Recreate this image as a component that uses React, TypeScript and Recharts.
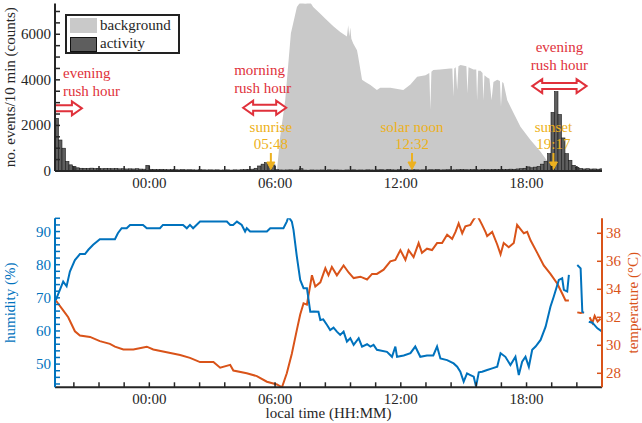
import React from 'react';
import {
  ComposedChart,
  LineChart,
  Line,
  Area,
  Bar,
  XAxis,
  YAxis,
  ReferenceArea,
  ReferenceDot,
} from 'recharts';

// ---------------- data ----------------
// time axis in hours relative to local midnight (negative = previous evening)
const X_DOMAIN: [number, number] = [-4.5, 21.6];
const xTicks = [-3.6, -2.4, -1.2, 0, 1.2, 2.4, 3.6, 4.8, 6, 7.2, 8.4, 9.6, 10.8, 12, 13.2, 14.4, 15.6, 16.8, 18, 19.2, 20.4];
const xMajor = [0, 6, 12, 18];
const xLabels = ['00:00', '06:00', '12:00', '18:00'];

const countTicks = [0, 500, 1000, 1500, 2000, 2500, 3000, 3500, 4000, 4500, 5000, 5500, 6000, 6500, 7000];
const countMajor = [0, 2000, 4000, 6000];
const humTicks = [44, 46, 48, 50, 52, 54, 56, 58, 60, 62, 64, 66, 68, 70, 72, 74, 76, 78, 80, 82, 84, 86, 88, 90, 92, 94];
const humMajor = [50, 60, 70, 80, 90];
const tempTicks = [28, 30, 32, 34, 36, 38];

// activity: counts per 10-min bin, first bin starts 19:30 (previous evening)
const ACT_START = -4.5;
const BIN_H = 1 / 6;
const activity = [
  2310, 1360, 1000, // 19:30
  420, 270, 190, 140, 120, 115, // 20:00
  110, 125, 105, 115, 100, 110, // 21:00
  105, 100, 110, 95, 100, 90, // 22:00
  95, 90, 100, 85, 80, 250, // 23:00
  75, 70, 65, 75, 60, 55, // 00:00
  60, 55, 50, 60, 50, 55, // 01:00
  50, 45, 55, 50, 45, 50, // 02:00
  45, 50, 40, 45, 50, 40, // 03:00
  50, 45, 55, 60, 70, 80, // 04:00
  120, 220, 300, 365, 380, 265, // 05:00
  60, 45, 40, 45, 50, 40, // 06:00
  45, 100, 40, 35, 45, 40, // 07:00
  40, 45, 35, 50, 40, 45, // 08:00
  40, 35, 45, 40, 50, 40, // 09:00
  45, 40, 50, 45, 40, 50, // 10:00
  55, 45, 60, 50, 45, 55, // 11:00
  50, 60, 45, 55, 50, 45, // 12:00
  50, 45, 55, 50, 60, 45, // 13:00
  50, 55, 45, 50, 55, 60, // 14:00
  55, 50, 60, 55, 50, 60, // 15:00
  60, 55, 65, 60, 70, 65, // 16:00
  70, 80, 75, 90, 100, 120, // 17:00
  180, 140, 170, 200, 300, 420, // 18:00
  760, 2570, 3480, 2480, 1450, 760, // 19:00
  470, 250, 160, 110, 90, 100, // 20:00
  85, 90, 80, 95, // 21:00
];

// background (time in h, counts)
const background: [number, number][] = [
  [6.087, 0], [6.245, 1500], [6.484, 3110], [6.756, 6050], [7.043, 7200], [7.2, 7400], [7.44, 7350],
  [7.68, 7400], [7.82, 7200], [8.16, 6900], [8.44, 6650], [8.78, 6350], [9.11, 6100], [9.43, 5900],
  [9.49, 6400], [9.54, 5900], [9.59, 6300], [9.64, 5800], [9.73, 5600], [9.91, 5300], [9.97, 5000],
  [10.15, 4000], [10.31, 3900], [10.55, 3770], [10.86, 3550], [11.02, 3650], [11.5, 3650], [12.12, 3550],
  [12.46, 3800], [12.78, 4140], [13.18, 4200], [13.36, 4300], [13.41, 2675], [13.46, 4350], [13.55, 4430],
  [13.88, 4450], [14.35, 4500], [14.46, 4500], [14.51, 3260], [14.55, 4500], [14.62, 4550], [14.69, 3550],
  [14.75, 4600], [14.85, 4650], [15.13, 4600], [15.18, 3400], [15.23, 4550], [15.47, 4450], [15.6, 4450],
  [15.64, 3110], [15.69, 4400], [15.8, 4400], [15.9, 4300], [15.94, 3110], [15.99, 4200], [16.12, 4100],
  [16.23, 4050], [16.33, 3110], [16.42, 3900], [16.6, 4000], [16.73, 3950], [16.78, 2820], [16.84, 3900],
  [16.9, 3860], [17.08, 3110], [17.38, 2540], [17.71, 1940], [18.19, 1360], [18.67, 846], [19.05, 360],
  [19.29, 60], [19.38, 0],
];

// humidity (%) ; null = gap in record
const humidity: [number, number | null][] = [
  [-4.458, 69.4], [-4.267, 72.4], [-4.109, 74.9], [-3.946, 73.5], [-3.789, 77.9], [-3.55, 81.4], [-3.31, 83.2],
  [-3.07, 83.2], [-2.91, 84.5], [-2.68, 86], [-2.36, 87.7], [-1.88, 87.7], [-1.64, 87.7], [-1.5, 89.5],
  [-1.32, 91], [-1.08, 91], [-0.92, 92], [-0.3, 92], [-0.12, 91], [0.51, 91], [0.65, 92], [1.61, 92],
  [1.79, 91], [1.94, 92], [2.09, 91], [2.42, 93], [3.7, 93], [3.86, 92], [4.0, 92], [4.18, 93], [4.41, 92],
  [4.57, 90], [4.65, 91], [4.81, 90], [5.61, 90], [5.77, 91], [6.4, 91], [6.56, 93], [6.64, 94.5], [6.8, 93],
  [6.88, 90.5], [7.04, 82.4], [7.2, 75.4], [7.36, 72.9], [7.52, 72.9], [7.68, 65.8], [7.84, 65.9], [8.07, 65.8],
  [8.16, 63.3], [8.3, 63.5], [8.48, 61.8], [8.63, 60.3], [8.79, 61], [8.95, 59.8], [9.11, 58.8], [9.27, 59.8],
  [9.43, 56.8], [9.59, 57.8], [9.75, 55.8], [9.99, 57.8], [10.15, 55.3], [10.39, 56], [10.55, 55.3],
  [10.7, 55.8], [10.86, 54.3], [11.34, 53.7], [11.58, 52.2], [11.74, 55.3], [11.82, 52.2], [12.14, 52.6],
  [12.46, 53.3], [12.69, 55.3], [12.93, 52.2], [13.25, 52.6], [13.55, 52.6], [13.73, 55.3], [13.89, 51.7],
  [14.21, 51.2], [14.52, 50.2], [14.69, 49.2], [14.84, 47.7], [15.0, 44.7], [15.16, 47.2], [15.32, 46.7],
  [15.48, 46.2], [15.59, 43.2], [15.72, 47.5], [15.88, 47.7], [16.12, 48.2], [16.36, 48.7], [16.6, 49.2],
  [16.76, 53.3], [16.99, 52.2], [17.23, 49.7], [17.47, 52.2], [17.63, 46.7], [17.79, 50.7], [17.95, 52.2],
  [18.11, 49.2], [18.27, 54.3], [18.43, 55.3], [18.67, 57.3], [18.91, 61.3], [19.14, 67.3], [19.3, 70.4],
  [19.54, 75.4], [19.7, 75.9], [19.78, 72.4], [19.94, 71.9], [20.02, 76.9], [20.2, null], [20.42, 79.9],
  [20.58, 78.9], [20.66, 65.8], [20.74, 65.5], [20.85, null], [20.97, 62.8], [21.14, 62.5], [21.38, 60.8],
  [21.61, 59.8],
];

// temperature (deg C) ; null = gap in record
const temperature: [number, number | null][] = [
  [-4.458, 33.2], [-4.109, 32.5], [-3.87, 32.0], [-3.55, 31.0], [-3.31, 30.7], [-2.83, 30.6], [-2.36, 30.3],
  [-1.88, 30.1], [-1.64, 29.9], [-1.24, 29.7], [-0.76, 29.7], [-0.12, 29.9], [0.19, 29.7], [0.83, 29.5],
  [1.47, 29.3], [1.94, 29.1], [2.42, 28.8], [3.06, 28.8], [3.38, 28.4], [3.86, 28.6], [4.01, 28.2], [4.65, 28.0],
  [5.13, 27.8], [5.61, 27.4], [6.09, 27.2], [6.33, 27.0], [6.56, 28.0], [6.8, 29.4], [7.04, 31.1], [7.2, 32.2],
  [7.36, 33.0], [7.52, 32.9], [7.76, 35.0], [7.92, 34.2], [8.16, 34.5], [8.4, 35.5], [8.55, 35.0], [8.71, 35.6],
  [8.95, 35.0], [9.27, 35.7], [9.51, 35.2], [9.75, 34.8], [10.07, 34.9], [10.39, 34.7], [10.63, 35.1],
  [10.86, 35.1], [11.18, 35.4], [11.5, 36.0], [11.74, 36.1], [11.98, 36.8], [12.22, 36.1], [12.37, 36.8],
  [12.61, 36.3], [12.85, 37.3], [13.01, 36.6], [13.25, 36.9], [13.49, 36.8], [13.73, 37.3], [13.97, 37.3],
  [14.21, 37.9], [14.45, 37.6], [14.61, 38.1], [14.76, 38.7], [14.93, 38.0], [15.08, 38.5], [15.32, 38.6],
  [15.48, 39.0], [15.64, 39.3], [15.88, 38.6], [16.04, 38.1], [16.12, 37.8], [16.36, 38.1], [16.6, 37.2],
  [16.76, 36.5], [16.91, 37.3], [17.15, 37.0], [17.39, 37.3], [17.55, 38.6], [17.71, 38.3], [17.87, 38.0],
  [18.03, 38.1], [18.19, 37.5], [18.51, 36.6], [18.82, 35.7], [19.14, 35.1], [19.47, 34.4], [19.7, 33.7],
  [19.86, 33.2], [20.02, 33.2], [20.2, null], [20.42, 32.35], [20.58, 32.3], [20.74, 32.35], [20.85, null],
  [21.01, 32.0], [21.14, 31.6], [21.25, 32.1], [21.39, 31.7], [21.53, 31.9],
];

// annotations
const sunTimes = [5.8, 12.533, 19.283];
const sunNames = ['sunrise', 'solar noon', 'sunset'];
const sunClock = ['05:48', '12:32', '19:17'];

const rushFrom = [-4.5, 4.477, 18.27];
const rushTo = [-3.216, 6.531, 20.865];
const rushLevel = [2750, 2775, 3725];
const rushLine1 = ['evening', 'morning', 'evening'];
const rushLine2 = ['rush hour', 'rush hour', 'rush hour'];

// ---------------- derived tables ----------------
const actData = activity.map((a, i) => ({ t: ACT_START + (i + 0.5) * BIN_H, a }));
const bgData = background.map(([t, v]) => ({ t, v }));
const humData = humidity.map(([t, h]) => ({ t, h }));
const tempData = temperature.map(([t, c]) => ({ t, c }));

// ---------------- styles ----------------
const FONT = '"Liberation Serif", "Times New Roman", serif';
const INK = '#262626';
const BLUE = '#0072BD';
const ORANGE = '#D95319';
const RED = '#E0313B';
const YELLOW = '#EDB120';
const FS = 15;
const PLOT_W = 547;
const BIN_PX = (PLOT_W / (X_DOMAIN[1] - X_DOMAIN[0])) * BIN_H;

const near = (arr: number[], v: number) => arr.findIndex((m) => Math.abs(m - v) < 1e-6);

const xTick = (labels: boolean, dir: number) => (p: any) => {
  const { x, y, payload } = p;
  const i = near(xMajor, payload.value);
  return (
    <g>
      <line x1={x} x2={x} y1={y} y2={y + dir * 5} stroke={INK} strokeWidth={1.5} />
      {labels && i >= 0 && (
        <text x={x} y={y + 17} textAnchor="middle" fontSize={FS} fontFamily={FONT} fill={INK}>
          {xLabels[i]}
        </text>
      )}
    </g>
  );
};

const yTick = (side: 'left' | 'right', color: string, major: number[] | null, textColor: string) => (p: any) => {
  const { x, y, payload } = p;
  const v = payload.value;
  const dir = side === 'left' ? 1 : -1;
  const isMajor = major ? near(major, v) >= 0 : false;
  return (
    <g>
      <line x1={x} x2={x + dir * 5} y1={y} y2={y} stroke={color} strokeWidth={1.5} />
      {isMajor && (
        <text
          x={side === 'left' ? x - 4 : x + 4}
          y={y + 5}
          textAnchor={side === 'left' ? 'end' : 'start'}
          fontSize={FS}
          fontFamily={FONT}
          fill={textColor}
        >
          {String(v)}
        </text>
      )}
    </g>
  );
};

const vTitle = (text: string, color: string, bx: (vb: any) => number) => (p: any) => {
  const vb = p.viewBox || { x: 0, y: 0, width: 0, height: 0 };
  const x = bx(vb);
  const y = vb.y + vb.height / 2;
  return (
    <text
      x={x}
      y={y}
      transform={`rotate(-90, ${x}, ${y})`}
      textAnchor="middle"
      fontSize={FS}
      fontFamily={FONT}
      fill={color}
    >
      {text}
    </text>
  );
};

const binShape = (p: any) => {
  const { x, y, width, height } = p;
  if (height == null || !isFinite(height) || height <= 0) return <g />;
  const cx = x + width / 2;
  return (
    <rect x={cx - BIN_PX / 2} y={y} width={BIN_PX} height={height} fill="#5e5e5e" stroke="#1a1a1a" strokeWidth={0.6} />
  );
};

const rushShape = (k: number) => (p: any) => {
  const { x, y, width, height } = p;
  const cy = y + height / 2;
  const x1 = x;
  const x2 = x + width;
  const hl = 10;
  const hh = 7;
  const sh = 3;
  let pts: number[][];
  if (k === 0) {
    pts = [
      [x1, cy - sh], [x2 - hl, cy - sh], [x2 - hl, cy - hh], [x2, cy],
      [x2 - hl, cy + hh], [x2 - hl, cy + sh], [x1, cy + sh],
    ];
  } else {
    pts = [
      [x1, cy], [x1 + hl, cy - hh], [x1 + hl, cy - sh], [x2 - hl, cy - sh], [x2 - hl, cy - hh], [x2, cy],
      [x2 - hl, cy + hh], [x2 - hl, cy + sh], [x1 + hl, cy + sh], [x1 + hl, cy + hh],
    ];
  }
  const tx = k === 0 ? x1 + 8 : k === 1 ? x1 - 9 : (x1 + x2) / 2;
  const anchor = k === 2 ? 'middle' : 'start';
  const d1 = k === 0 ? -30 : k === 1 ? -33 : -34.5;
  const d2 = k === 0 ? -12 : k === 1 ? -14.5 : -16;
  return (
    <g>
      <polygon points={pts.map((q) => q.join(',')).join(' ')} fill="#fff" stroke={RED} strokeWidth={2} strokeLinejoin="miter" />
      <text x={tx} y={cy + d1} textAnchor={anchor} fontSize={FS} fontFamily={FONT} fill={RED}>{rushLine1[k]}</text>
      <text x={tx} y={cy + d2} textAnchor={anchor} fontSize={FS} fontFamily={FONT} fill={RED}>{rushLine2[k]}</text>
    </g>
  );
};

const sunShape = (k: number) => (p: any) => {
  const { cx, cy } = p;
  return (
    <g>
      <text x={cx} y={cy - 39.5} textAnchor="middle" fontSize={FS} fontFamily={FONT} fill={YELLOW}>{sunNames[k]}</text>
      <text x={cx} y={cy - 22.5} textAnchor="middle" fontSize={FS} fontFamily={FONT} fill={YELLOW}>{sunClock[k]}</text>
      <line x1={cx} x2={cx} y1={cy - 18} y2={cy - 8} stroke={YELLOW} strokeWidth={2} />
      <polygon points={`${cx - 4},${cy - 9} ${cx + 4},${cy - 9} ${cx},${cy - 1.5}`} fill={YELLOW} stroke={YELLOW} strokeWidth={1} />
    </g>
  );
};

const frame = { stroke: INK, strokeWidth: 2 };

export default function App() {
  return (
    <div style={{ position: 'absolute', left: 0, top: 0, width: 642, height: 423, background: '#fff', fontFamily: FONT }}>
      <div style={{ position: 'absolute', left: 0, top: 0 }}>
        <ComposedChart
          width={642} height={200} data={actData} margin={{ top: 3.5, right: 40, bottom: 0, left: 0 }}
          barCategoryGap={0} barGap={0}
        >
          <XAxis
            xAxisId="x" dataKey="t" type="number" domain={X_DOMAIN} allowDataOverflow ticks={xTicks} interval={0}
            tickSize={0} tickMargin={0} tickLine={false} axisLine={frame} tick={xTick(true, -1)} height={29}
          />
          <XAxis
            xAxisId="xt" orientation="top" dataKey="t" type="number" domain={X_DOMAIN} allowDataOverflow ticks={xTicks}
            interval={0} tickSize={0} tickMargin={0} tickLine={false} axisLine={frame} tick={xTick(false, 1)} height={0}
          />
          <YAxis
            yAxisId="c" type="number" domain={[0, 7350]} allowDataOverflow ticks={countTicks} interval={0}
            tickSize={0} tickMargin={0} tickLine={false} axisLine={frame} width={55}
            tick={yTick('left', INK, countMajor, INK)}
            label={vTitle('no. events/10 min (counts)', INK, (vb) => vb.x + 14.5)}
          />
          <YAxis
            yAxisId="cr" orientation="right" type="number" domain={[0, 7350]} allowDataOverflow ticks={countTicks}
            interval={0} tickSize={0} tickMargin={0} tickLine={false} axisLine={frame} width={0}
            tick={yTick('right', INK, null, INK)}
          />
          <Area
            xAxisId="x" yAxisId="c" data={bgData} dataKey="v" type="linear" fill="#c9c9c9" fillOpacity={1}
            stroke="none" isAnimationActive={false} dot={false} activeDot={false}
          />
          <Bar
            xAxisId="x" yAxisId="c" dataKey="a" fill="#5e5e5e" shape={binShape} minPointSize={0}
            isAnimationActive={false}
          />
          {rushFrom.map((f, k) => (
            <ReferenceArea
              key={`r${k}`} xAxisId="x" yAxisId="c" x1={f} x2={rushTo[k]} y1={rushLevel[k] - 200} y2={rushLevel[k] + 200}
              shape={rushShape(k)} ifOverflow="visible"
            />
          ))}
          {sunTimes.map((t, k) => (
            <ReferenceDot key={`s${k}`} xAxisId="x" yAxisId="c" x={t} y={0} r={0} shape={sunShape(k)} ifOverflow="visible" />
          ))}
        </ComposedChart>
      </div>

      <div
        style={{
          position: 'absolute', left: 65, top: 14, width: 115, height: 40, border: '2px solid #222',
          boxSizing: 'border-box', background: '#fff', fontSize: FS, fontFamily: FONT, color: INK,
        }}
      >
        <div style={{ position: 'absolute', left: 3, top: 2.3, width: 27, height: 15, background: '#c9c9c9' }} />
        <div
          style={{
            position: 'absolute', left: 3, top: 20.7, width: 27, height: 15, background: '#5e5e5e',
            border: '1px solid #111', boxSizing: 'border-box',
          }}
        />
        <div style={{ position: 'absolute', left: 33, top: 1, lineHeight: '17px', whiteSpace: 'nowrap' }}>background</div>
        <div style={{ position: 'absolute', left: 33, top: 18.5, lineHeight: '17px', whiteSpace: 'nowrap' }}>activity</div>
      </div>

      <div style={{ position: 'absolute', left: 0, top: 200 }}>
        <LineChart width={642} height={223} margin={{ top: 18.3, right: 0, bottom: 0, left: 0 }}>
          <XAxis
            xAxisId="x" dataKey="t" type="number" domain={X_DOMAIN} allowDataOverflow ticks={xTicks} interval={0}
            tickSize={0} tickMargin={0} tickLine={false} axisLine={frame} tick={xTick(true, -1)} height={35.7}
            label={(p: any) => {
              const vb = p.viewBox || { x: 55, y: 187, width: 547, height: 36 };
              return (
                <text x={vb.x + vb.width / 2} y={vb.y + 31} textAnchor="middle" fontSize={FS} fontFamily={FONT} fill={INK}>
                  local time (HH:MM)
                </text>
              );
            }}
          />
          <XAxis
            xAxisId="xt" orientation="top" dataKey="t" type="number" domain={X_DOMAIN} allowDataOverflow ticks={xTicks}
            interval={0} tickSize={0} tickMargin={0} tickLine={false} axisLine={frame} tick={xTick(false, 1)} height={0}
          />
          <YAxis
            yAxisId="h" type="number" domain={[43, 94]} allowDataOverflow ticks={humTicks} interval={0}
            tickSize={0} tickMargin={0} tickLine={false} axisLine={{ stroke: BLUE, strokeWidth: 2 }} width={55}
            tick={yTick('left', BLUE, humMajor, BLUE)}
            label={vTitle('humidity (%)', BLUE, (vb) => vb.x + 15)}
          />
          <YAxis
            yAxisId="c" orientation="right" type="number" domain={[27, 39.07]} allowDataOverflow ticks={tempTicks}
            interval={0} tickSize={0} tickMargin={0} tickLine={false} axisLine={{ stroke: ORANGE, strokeWidth: 2 }}
            width={40} tick={yTick('right', ORANGE, tempTicks, ORANGE)}
            label={vTitle('temperature (°C)', ORANGE, (vb) => vb.x + 36)}
          />
          <Line
            xAxisId="x" yAxisId="c" data={tempData} dataKey="c" type="linear" stroke={ORANGE} strokeWidth={2}
            dot={false} activeDot={false} connectNulls={false} isAnimationActive={false}
          />
          <Line
            xAxisId="x" yAxisId="h" data={humData} dataKey="h" type="linear" stroke={BLUE} strokeWidth={2}
            dot={false} activeDot={false} connectNulls={false} isAnimationActive={false}
          />
        </LineChart>
      </div>
    </div>
  );
}
